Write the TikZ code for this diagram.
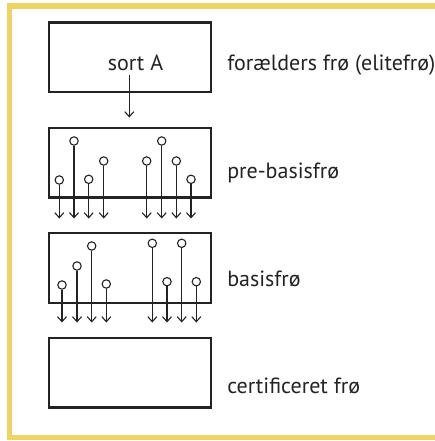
\documentclass[tikz,border=0pt]{standalone}
\usepackage{fontspec}
\setmainfont{PT Sans}
\usetikzlibrary{arrows.meta}

\definecolor{framegold}{RGB}{238,212,100}
\definecolor{inkgray}{RGB}{35,35,35}

\tikzset{every picture/.style={line width=1.1pt}}
\tikzset{
  stagebox/.style={draw=inkgray, line width=2.3pt, minimum width=162pt, minimum height=69.5pt, inner sep=0pt},
  seed/.style={circle, draw=inkgray, fill=white, line width=1.1pt, minimum size=8.4pt, inner sep=0pt},
  drop/.style={draw=inkgray, -{Straight Barb[length=5pt,width=9pt]}},
  stagelabel/.style={anchor=west, inner sep=0pt, font=\fontsize{22}{26}\selectfont, text=inkgray}
}

\begin{document}
\begin{tikzpicture}[x=1pt,y=1pt,yscale=-1,xscale=1]
\useasboundingbox (0,0) rectangle (434,441);

%Frame [yellow, open on the right]
\draw [color=framegold, line width=5.5pt] (445,6) -- (9.5,6) -- (9.5,437.5) -- (445,437.5) ;

%Shape: Rectangle [sort A]
\node [stagebox] (sortbox) at (129.7,57.4) {};
%Shape: Rectangle [pre-basis]
\node [stagebox] (prebox) at (129.7,162.7) {};
%Shape: Rectangle [basis]
\node [stagebox] (basisbox) at (129.7,268) {};
%Shape: Rectangle [certificeret]
\node [stagebox] (certbox) at (129.7,372.7) {};

% Text Node
\node [anchor=center, inner sep=0pt, font=\fontsize{22}{26}\selectfont, text=inkgray] (sortA) at (135.5,62.5) {sort A};
%Straight Lines [sort A down]
\coordinate (sortfrom) at (129.3,75);
\coordinate (sortto) at (129.3,117.5);
\draw [drop] (sortfrom) -- (sortto) ;

%Seeds [pre-basis]
\node [seed] (p1) at (59.3,180) {};
\node [seed] (p2) at (74,141) {};
\node [seed] (p3) at (88.7,179.3) {};
\node [seed] (p4) at (103.7,161) {};
\node [seed] (p5) at (146.7,161) {};
\node [seed] (p6) at (161.7,141) {};
\node [seed] (p7) at (176.3,161) {};
\node [seed] (p8) at (191,179.3) {};
\coordinate (pe1) at (59.3,218.5);
\coordinate (pe2) at (74,218.5);
\coordinate (pe3) at (88.7,218.5);
\coordinate (pe4) at (103.7,218.5);
\coordinate (pe5) at (146.7,218.5);
\coordinate (pe6) at (161.7,218.5);
\coordinate (pe7) at (176.3,218.5);
\coordinate (pe8) at (191,218.5);
\draw [drop] (p1) -- (pe1) ;
\draw [drop] (p2) -- (pe2) ;
\draw [drop] (p3) -- (pe3) ;
\draw [drop] (p4) -- (pe4) ;
\draw [drop] (p5) -- (pe5) ;
\draw [drop] (p6) -- (pe6) ;
\draw [drop] (p7) -- (pe7) ;
\draw [drop] (p8) -- (pe8) ;

%Seeds [basis]
\node [seed] (b1) at (62,285) {};
\node [seed] (b2) at (77,266) {};
\node [seed] (b3) at (91.7,246) {};
\node [seed] (b4) at (106.3,284) {};
\node [seed] (b5) at (152.3,243.3) {};
\node [seed] (b6) at (167,281.7) {};
\node [seed] (b7) at (181.7,243.3) {};
\node [seed] (b8) at (196.3,281.7) {};
\coordinate (be1) at (62,322.5);
\coordinate (be2) at (77,322.5);
\coordinate (be3) at (91.7,322.5);
\coordinate (be4) at (106.3,322.5);
\coordinate (be5) at (152.3,322.5);
\coordinate (be6) at (167,322.5);
\coordinate (be7) at (181.7,322.5);
\coordinate (be8) at (196.3,322.5);
\draw [drop] (b1) -- (be1) ;
\draw [drop] (b2) -- (be2) ;
\draw [drop] (b3) -- (be3) ;
\draw [drop] (b4) -- (be4) ;
\draw [drop] (b5) -- (be5) ;
\draw [drop] (b6) -- (be6) ;
\draw [drop] (b7) -- (be7) ;
\draw [drop] (b8) -- (be8) ;

% Text Node
\node [stagelabel] (elitelabel) at (226.7,65) {forælders frø (elitefrø)};
% Text Node
\node [stagelabel] (prelabel) at (226.7,173.3) {pre-basisfrø};
% Text Node
\node [stagelabel] (basislabel) at (226.7,279.3) {basisfrø};
% Text Node
\node [stagelabel] (certlabel) at (226.7,386) {certificeret frø};

\end{tikzpicture}
\end{document}
